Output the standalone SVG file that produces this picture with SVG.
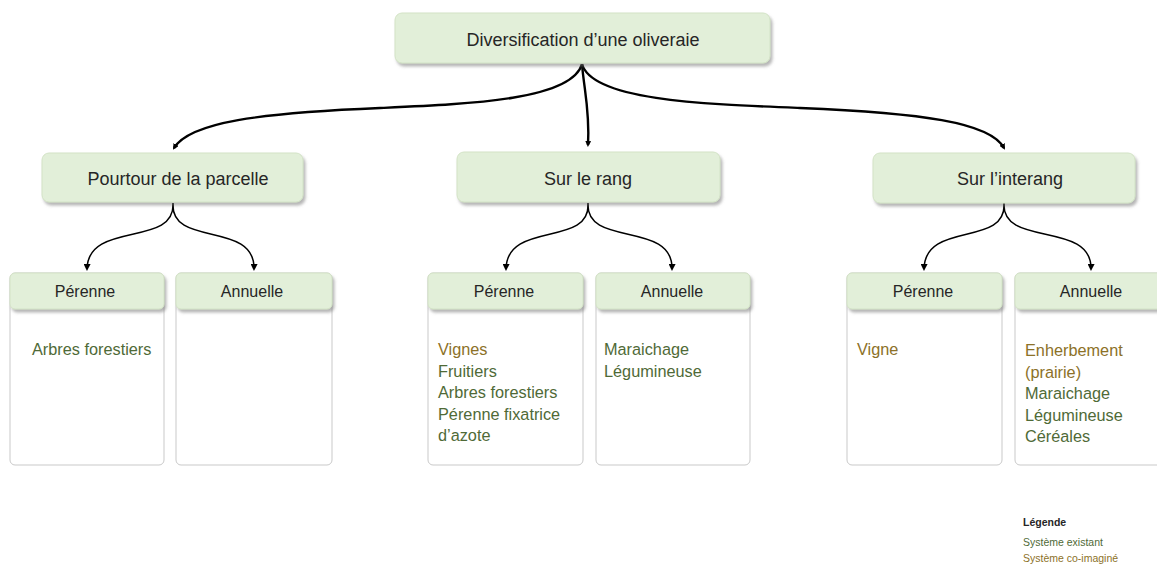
<svg xmlns="http://www.w3.org/2000/svg" width="1157" height="566" viewBox="0 0 1157 566">
<style>
.box{fill:#e2efd9;stroke:#d3e3c6;stroke-width:1;}
.panel{fill:#ffffff;stroke:#c9c9c9;stroke-width:1;}
.t{font-family:"Liberation Sans",Arial,sans-serif;fill:#262626;}
.big{font-size:18px;text-anchor:middle;}
.hd{font-size:16px;text-anchor:middle;}
.it{font-size:16.3px;}
.g{fill:#4f6a37;}
.o{fill:#8c7128;}
.lg{font-size:10.5px;}
.c1{fill:none;stroke:#000;stroke-width:2.4;marker-end:url(#ah);}
.c2{fill:none;stroke:#000;stroke-width:1.5;marker-end:url(#ah2);}
</style>
<defs>
<filter id="sh" x="-10%" y="-20%" width="125%" height="160%">
<feDropShadow dx="2" dy="3" stdDeviation="1.6" flood-color="#7a7a7a" flood-opacity="0.55"/>
</filter>
<marker id="ah" markerWidth="6" markerHeight="6" refX="4" refY="3" orient="auto" markerUnits="userSpaceOnUse" viewBox="0 0 6 6">
<path d="M0,0 L6,3 L0,6 Z" fill="#000"/>
</marker>
<marker id="ah2" markerWidth="7" markerHeight="7" refX="5" refY="3.5" orient="auto" markerUnits="userSpaceOnUse" viewBox="0 0 7 7">
<path d="M0,0 L7,3.5 L0,7 Z" fill="#000"/>
</marker>
</defs>

<g id="connectors">
<path class="c1" d="M582,64 C572,100 470,104 380,108 C260,113 190,122 174,148"/>
<path class="c1" d="M582,64 C584,90 590,110 588,145"/>
<path class="c1" d="M582,64 C592,100 700,104 800,108 C920,113 990,122 1004,148"/>
<path class="c2" d="M173,203 C176,248 88,220 87,269"/>
<path class="c2" d="M173,203 C170,248 255,220 254,269"/>
<path class="c2" d="M588,203 C591,248 507,220 506,269"/>
<path class="c2" d="M588,203 C585,248 673,220 672,269"/>
<path class="c2" d="M1004,203 C1007,248 925,220 924,269"/>
<path class="c2" d="M1004,203 C1001,248 1092,220 1091,269"/>
</g>

<g id="root">
<rect class="box" x="395" y="13" width="375" height="50" rx="7" filter="url(#sh)"/>
<text class="t big" x="583" y="46">Diversification d’une oliveraie</text>
</g>

<g id="pourtour">
<rect class="box" x="42" y="153" width="261" height="49" rx="7" filter="url(#sh)"/>
<text class="t big" x="178" y="185">Pourtour de la parcelle</text>
</g>
<g id="rang">
<rect class="box" x="457" y="152" width="263" height="50" rx="7" filter="url(#sh)"/>
<text class="t big" x="588" y="185">Sur le rang</text>
</g>
<g id="interang">
<rect class="box" x="873" y="153" width="262" height="50" rx="7" filter="url(#sh)"/>
<text class="t big" x="1010" y="185">Sur l’interang</text>
</g>

<g id="p1">
<rect class="panel" x="10" y="273" width="154" height="192" rx="5"/>
<rect class="box" x="10" y="273" width="154" height="36" rx="5" filter="url(#sh)"/>
<text class="t hd" x="85" y="297">Pérenne</text>
<text class="t it g" x="32" y="355">Arbres forestiers</text>
</g>
<g id="a1">
<rect class="panel" x="176" y="273" width="156" height="192" rx="5"/>
<rect class="box" x="176" y="273" width="156" height="36" rx="5" filter="url(#sh)"/>
<text class="t hd" x="252" y="297">Annuelle</text>
</g>

<g id="p2">
<rect class="panel" x="428" y="273" width="155" height="192" rx="5"/>
<rect class="box" x="428" y="273" width="155" height="36" rx="5" filter="url(#sh)"/>
<text class="t hd" x="504" y="297">Pérenne</text>
<text class="t it" x="438" y="355"><tspan class="o">Vignes</tspan><tspan class="g" x="438" dy="21.5">Fruitiers</tspan><tspan class="g" x="438" dy="21.5">Arbres forestiers</tspan><tspan class="g" x="438" dy="21.5">Pérenne fixatrice</tspan><tspan class="g" x="438" dy="21.5">d’azote</tspan></text>
</g>
<g id="a2">
<rect class="panel" x="596" y="273" width="154" height="192" rx="5"/>
<rect class="box" x="596" y="273" width="154" height="36" rx="5" filter="url(#sh)"/>
<text class="t hd" x="672" y="297">Annuelle</text>
<text class="t it g" x="604" y="355"><tspan>Maraichage</tspan><tspan x="604" dy="21.5">Légumineuse</tspan></text>
</g>

<g id="p3">
<rect class="panel" x="847" y="273" width="155" height="192" rx="5"/>
<rect class="box" x="847" y="273" width="155" height="36" rx="5" filter="url(#sh)"/>
<text class="t hd" x="923" y="297">Pérenne</text>
<text class="t it o" x="857" y="355">Vigne</text>
</g>
<g id="a3">
<rect class="panel" x="1015" y="273" width="155" height="192" rx="5"/>
<rect class="box" x="1015" y="273" width="155" height="36" rx="5" filter="url(#sh)"/>
<text class="t hd" x="1091" y="297">Annuelle</text>
<text class="t it" x="1025" y="356"><tspan class="o">Enherbement</tspan><tspan class="o" x="1025" dy="21.5">(prairie)</tspan><tspan class="g" x="1025" dy="21.5">Maraichage</tspan><tspan class="g" x="1025" dy="21.5">Légumineuse</tspan><tspan class="g" x="1025" dy="21.5">Céréales</tspan></text>
</g>

<g id="legend">
<text class="t lg" x="1023" y="526" font-weight="bold" font-size="11px" fill="#000">Légende</text>
<text class="t lg g" x="1023" y="546">Système existant</text>
<text class="t lg o" x="1023" y="562">Système co-imaginé</text>
</g>
</svg>
